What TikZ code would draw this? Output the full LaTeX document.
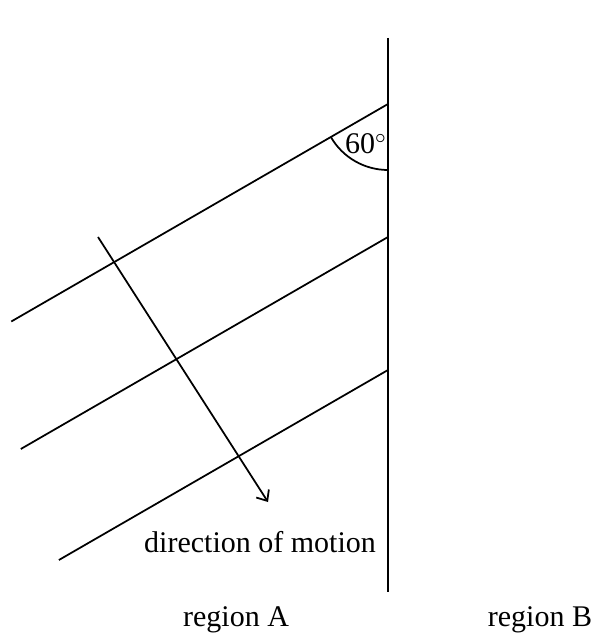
\documentclass[tikz,border=0pt]{standalone}
\usepackage{fontspec}
\setmainfont{Liberation Serif}
\usetikzlibrary{arrows.meta,calc}

\begin{document}
\begin{tikzpicture}[x=0.4pt,y=-0.4pt,
    every node/.style={font=\fontsize{12}{14}\selectfont, inner sep=0pt},
    front/.style={line width=0.7pt},
    boundary/.style={line width=0.75pt}]
  \useasboundingbox (0,0) rectangle (595,638);
  % boundary between the two regions
  \coordinate (btop) at (388,38);
  \coordinate (bbot) at (388,592);
  \draw[boundary] (btop) -- (bbot);
  % wavefronts meeting the boundary
  \foreach \y/\len/\i in {104/435/1, 237/424/2, 370/380/3}{
    \coordinate (f\i) at (388,\y);
    \draw[front] (f\i) -- ++(150:\len);
  }
  % angle mark
  \draw[front] ($(f1)+(0,66)$) arc[start angle=270, end angle=210, radius=26.4pt];
  \node[anchor=base] (ang) at (366,154) {60$^{\circ}$};
  % direction of motion
  \coordinate (mstart) at (98,237);
  \coordinate (mend) at (268,502);
  \draw[front, -{Straight Barb[length=3.5pt, width=6pt]}] (mstart) -- (mend);
  \node[anchor=base] (dir) at (260,552) {direction of motion};
  % region labels
  \node[anchor=base] (regA) at (236,626) {region A};
  \node[anchor=base] (regB) at (540,626) {region B};
\end{tikzpicture}
\end{document}
